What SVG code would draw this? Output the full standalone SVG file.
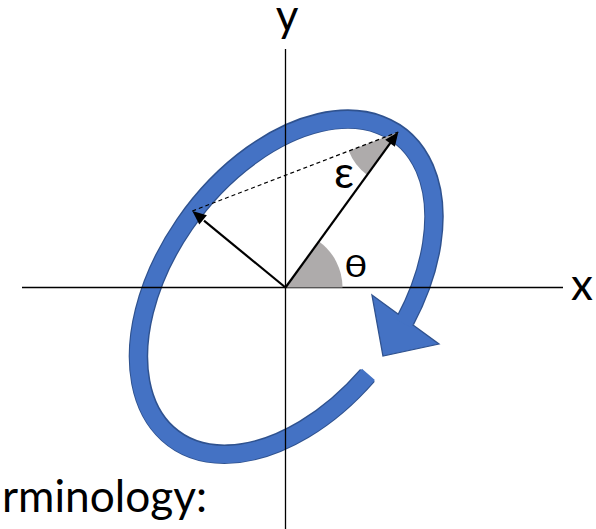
<svg xmlns="http://www.w3.org/2000/svg" width="596" height="529" viewBox="0 0 596 529">
<style>
.lbl{font-family:Lato,"Open Sans","Liberation Sans",sans-serif;fill:#000}
.axis{stroke:#000;stroke-width:1.3;fill:none}
.vec{stroke:#000;stroke-width:2.2;fill:none}
.head{fill:#000}
.wedge{fill:#AEABAB}
</style>
<rect width="596" height="529" fill="#fff"/>
<g id="rotation-arrow" transform="translate(286,287) rotate(-53.4)">
  <path d="M-22.4 118.1 A189 119 0 1 1 44.4 115.7" fill="none" stroke="#2F528F" stroke-width="19.5"/>
  <polygon points="44.8,73.8 45.4,156.8 2.4,119" fill="#4472C4" stroke="#2F528F" stroke-width="1.3" stroke-linejoin="miter"/>
  <path d="M-21 118.3 A189 119 0 1 1 41 116.2" fill="none" stroke="#4472C4" stroke-width="17"/>
</g>
<g id="axes">
  <line class="axis" x1="22" y1="287.5" x2="563" y2="287.5"/>
  <line class="axis" x1="285.5" y1="49" x2="285.5" y2="529"/>
</g>
<g id="angles">
  <path class="wedge" d="M285.5 287.5 L342.5 287.5 A57 57 0 0 0 319 241.4 Z"/>
  <path class="wedge" d="M398.3 132 L348.8 151 A53 53 0 0 0 367.2 174.9 Z"/>
</g>
<g id="connectors">
  <line x1="192.3" y1="211" x2="398.3" y2="132" stroke="#000" stroke-width="1.2" stroke-dasharray="4 3"/>
  <line class="vec" x1="285.5" y1="287.5" x2="391.5" y2="141.4"/>
  <polygon class="head" points="398.3,132 394.9,146.8 385.2,139.8"/>
  <line class="vec" x1="285.5" y1="287.5" x2="204" y2="220.7"/>
  <polygon class="head" points="192.3,211 206.9,215.3 199.3,224.5"/>
</g>
<g id="labels">
  <text class="lbl" x="287" y="30.5" font-size="44" text-anchor="middle">y</text>
  <text class="lbl" x="582" y="300" font-size="44" text-anchor="middle">x</text>
  <text class="lbl" x="344" y="188.3" font-size="44" text-anchor="middle">ε</text>
  <text class="lbl" transform="translate(356,277) scale(1.3,1)" font-size="30" text-anchor="middle">θ</text>
  <text class="lbl" x="2" y="511.7" font-size="44" textLength="205" lengthAdjust="spacingAndGlyphs">rminology:</text>
</g>
</svg>
